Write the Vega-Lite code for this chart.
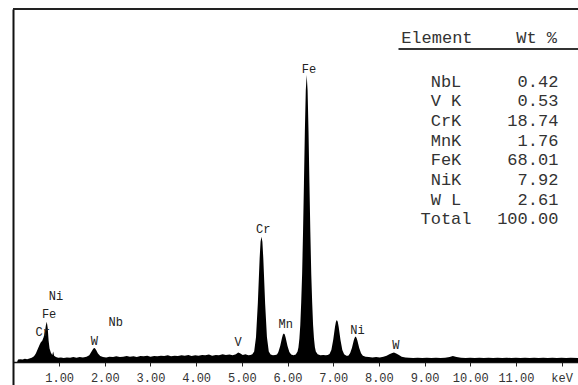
{
  "$schema": "https://vega.github.io/schema/vega-lite/v6.json",
  "width": 565,
  "height": 376,
  "autosize": {"type": "none"},
  "padding": {"left": 13, "top": 9, "right": 0, "bottom": 0},
  "background": "white",
  "config": {"view": {"stroke": null}},
  "datasets": {
    "spectrum": [
      {"energy": 0.08, "counts": 0}, {"energy": 0.10, "counts": 7}, {"energy": 0.15, "counts": 8}, {"energy": 0.20, "counts": 7},
      {"energy": 0.25, "counts": 9}, {"energy": 0.30, "counts": 8}, {"energy": 0.35, "counts": 10}, {"energy": 0.40, "counts": 12},
      {"energy": 0.45, "counts": 16}, {"energy": 0.49, "counts": 24}, {"energy": 0.53, "counts": 36}, {"energy": 0.57, "counts": 48},
      {"energy": 0.60, "counts": 56}, {"energy": 0.63, "counts": 60}, {"energy": 0.66, "counts": 70}, {"energy": 0.69, "counts": 86},
      {"energy": 0.71, "counts": 104}, {"energy": 0.73, "counts": 114}, {"energy": 0.75, "counts": 96}, {"energy": 0.77, "counts": 60},
      {"energy": 0.79, "counts": 38}, {"energy": 0.82, "counts": 26}, {"energy": 0.85, "counts": 20}, {"energy": 0.87, "counts": 30},
      {"energy": 0.89, "counts": 18}, {"energy": 0.93, "counts": 14}, {"energy": 0.98, "counts": 12}, {"energy": 1.04, "counts": 13},
      {"energy": 1.10, "counts": 11}, {"energy": 1.17, "counts": 13}, {"energy": 1.24, "counts": 12}, {"energy": 1.31, "counts": 14},
      {"energy": 1.38, "counts": 12}, {"energy": 1.45, "counts": 14}, {"energy": 1.52, "counts": 13}, {"energy": 1.60, "counts": 15},
      {"energy": 1.66, "counts": 19}, {"energy": 1.71, "counts": 30}, {"energy": 1.75, "counts": 38}, {"energy": 1.78, "counts": 40},
      {"energy": 1.81, "counts": 34}, {"energy": 1.85, "counts": 24}, {"energy": 1.90, "counts": 17}, {"energy": 1.96, "counts": 14},
      {"energy": 2.03, "counts": 13}, {"energy": 2.10, "counts": 15}, {"energy": 2.18, "counts": 14}, {"energy": 2.25, "counts": 16},
      {"energy": 2.33, "counts": 14}, {"energy": 2.40, "counts": 15}, {"energy": 2.48, "counts": 17}, {"energy": 2.55, "counts": 15},
      {"energy": 2.63, "counts": 16}, {"energy": 2.70, "counts": 14}, {"energy": 2.78, "counts": 17}, {"energy": 2.85, "counts": 16},
      {"energy": 2.93, "counts": 18}, {"energy": 3.00, "counts": 15}, {"energy": 3.08, "counts": 17}, {"energy": 3.15, "counts": 16},
      {"energy": 3.23, "counts": 18}, {"energy": 3.30, "counts": 17}, {"energy": 3.38, "counts": 19}, {"energy": 3.45, "counts": 16},
      {"energy": 3.53, "counts": 18}, {"energy": 3.60, "counts": 17}, {"energy": 3.68, "counts": 19}, {"energy": 3.75, "counts": 18},
      {"energy": 3.83, "counts": 20}, {"energy": 3.90, "counts": 17}, {"energy": 3.98, "counts": 19}, {"energy": 4.05, "counts": 18},
      {"energy": 4.13, "counts": 20}, {"energy": 4.20, "counts": 19}, {"energy": 4.28, "counts": 21}, {"energy": 4.35, "counts": 18},
      {"energy": 4.43, "counts": 20}, {"energy": 4.50, "counts": 19}, {"energy": 4.58, "counts": 22}, {"energy": 4.65, "counts": 20},
      {"energy": 4.73, "counts": 21}, {"energy": 4.80, "counts": 19}, {"energy": 4.87, "counts": 22}, {"energy": 4.92, "counts": 27},
      {"energy": 4.96, "counts": 25}, {"energy": 5.02, "counts": 20}, {"energy": 5.08, "counts": 22}, {"energy": 5.14, "counts": 19},
      {"energy": 5.19, "counts": 20}, {"energy": 5.23, "counts": 22}, {"energy": 5.27, "counts": 30}, {"energy": 5.31, "counts": 70},
      {"energy": 5.35, "counts": 166}, {"energy": 5.39, "counts": 294}, {"energy": 5.41, "counts": 341}, {"energy": 5.43, "counts": 355},
      {"energy": 5.45, "counts": 341}, {"energy": 5.47, "counts": 294}, {"energy": 5.51, "counts": 166}, {"energy": 5.55, "counts": 70},
      {"energy": 5.59, "counts": 30}, {"energy": 5.63, "counts": 21}, {"energy": 5.68, "counts": 19}, {"energy": 5.73, "counts": 20},
      {"energy": 5.77, "counts": 21}, {"energy": 5.80, "counts": 28}, {"energy": 5.84, "counts": 45}, {"energy": 5.88, "counts": 69},
      {"energy": 5.90, "counts": 78}, {"energy": 5.92, "counts": 81}, {"energy": 5.94, "counts": 78}, {"energy": 5.96, "counts": 69},
      {"energy": 6.00, "counts": 45}, {"energy": 6.04, "counts": 28}, {"energy": 6.08, "counts": 21}, {"energy": 6.13, "counts": 19},
      {"energy": 6.18, "counts": 21}, {"energy": 6.22, "counts": 30}, {"energy": 6.24, "counts": 42}, {"energy": 6.26, "counts": 66},
      {"energy": 6.28, "counts": 105}, {"energy": 6.30, "counts": 169}, {"energy": 6.32, "counts": 249}, {"energy": 6.34, "counts": 368},
      {"energy": 6.36, "counts": 507}, {"energy": 6.38, "counts": 654}, {"energy": 6.40, "counts": 769}, {"energy": 6.42, "counts": 813},
      {"energy": 6.44, "counts": 769}, {"energy": 6.46, "counts": 654}, {"energy": 6.48, "counts": 507}, {"energy": 6.50, "counts": 368},
      {"energy": 6.52, "counts": 249}, {"energy": 6.54, "counts": 169}, {"energy": 6.56, "counts": 105}, {"energy": 6.58, "counts": 66},
      {"energy": 6.60, "counts": 42}, {"energy": 6.62, "counts": 30}, {"energy": 6.66, "counts": 22}, {"energy": 6.72, "counts": 19},
      {"energy": 6.78, "counts": 20}, {"energy": 6.84, "counts": 19}, {"energy": 6.88, "counts": 20}, {"energy": 6.92, "counts": 23},
      {"energy": 6.96, "counts": 34}, {"energy": 7.00, "counts": 62}, {"energy": 7.04, "counts": 100}, {"energy": 7.06, "counts": 114},
      {"energy": 7.08, "counts": 119}, {"energy": 7.10, "counts": 114}, {"energy": 7.12, "counts": 100}, {"energy": 7.16, "counts": 62},
      {"energy": 7.20, "counts": 34}, {"energy": 7.24, "counts": 22}, {"energy": 7.29, "counts": 18}, {"energy": 7.33, "counts": 18},
      {"energy": 7.37, "counts": 25}, {"energy": 7.41, "counts": 40}, {"energy": 7.45, "counts": 61}, {"energy": 7.47, "counts": 69},
      {"energy": 7.49, "counts": 72}, {"energy": 7.51, "counts": 69}, {"energy": 7.53, "counts": 61}, {"energy": 7.57, "counts": 40},
      {"energy": 7.61, "counts": 25}, {"energy": 7.65, "counts": 18}, {"energy": 7.71, "counts": 15}, {"energy": 7.78, "counts": 14},
      {"energy": 7.86, "counts": 13}, {"energy": 7.94, "counts": 14}, {"energy": 8.02, "counts": 13}, {"energy": 8.10, "counts": 15},
      {"energy": 8.17, "counts": 18}, {"energy": 8.23, "counts": 22}, {"energy": 8.28, "counts": 25}, {"energy": 8.33, "counts": 27},
      {"energy": 8.38, "counts": 24}, {"energy": 8.44, "counts": 20}, {"energy": 8.50, "counts": 15}, {"energy": 8.58, "counts": 13},
      {"energy": 8.66, "counts": 12}, {"energy": 8.75, "counts": 11}, {"energy": 8.85, "counts": 12}, {"energy": 8.95, "counts": 11},
      {"energy": 9.05, "counts": 12}, {"energy": 9.15, "counts": 11}, {"energy": 9.25, "counts": 12}, {"energy": 9.35, "counts": 11},
      {"energy": 9.45, "counts": 12}, {"energy": 9.55, "counts": 14}, {"energy": 9.62, "counts": 17}, {"energy": 9.70, "counts": 14},
      {"energy": 9.80, "counts": 12}, {"energy": 9.90, "counts": 11}, {"energy": 10.00, "counts": 12}, {"energy": 10.10, "counts": 11},
      {"energy": 10.20, "counts": 12}, {"energy": 10.30, "counts": 11}, {"energy": 10.40, "counts": 12}, {"energy": 10.50, "counts": 11},
      {"energy": 10.60, "counts": 12}, {"energy": 10.70, "counts": 11}, {"energy": 10.80, "counts": 12}, {"energy": 10.90, "counts": 11},
      {"energy": 11.00, "counts": 12}, {"energy": 11.10, "counts": 11}, {"energy": 11.20, "counts": 12}, {"energy": 11.30, "counts": 11},
      {"energy": 11.40, "counts": 12}, {"energy": 11.50, "counts": 11}, {"energy": 11.60, "counts": 12}, {"energy": 11.70, "counts": 11},
      {"energy": 11.80, "counts": 12}, {"energy": 11.90, "counts": 11}, {"energy": 12.00, "counts": 12}, {"energy": 12.10, "counts": 11},
      {"energy": 12.20, "counts": 12}, {"energy": 12.36, "counts": 11}
    ],
    "peaks": [
      {"label": "Cr", "energy": 0.64, "height": 85},
      {"label": "Fe", "energy": 0.78, "height": 137},
      {"label": "Ni", "energy": 0.93, "height": 188},
      {"label": "W", "energy": 1.77, "height": 59},
      {"label": "Nb", "energy": 2.24, "height": 113},
      {"label": "V", "energy": 4.92, "height": 57},
      {"label": "Cr", "energy": 5.47, "height": 377},
      {"label": "Mn", "energy": 5.96, "height": 108},
      {"label": "Fe", "energy": 6.47, "height": 829},
      {"label": "Ni", "energy": 7.53, "height": 91},
      {"label": "W", "energy": 8.37, "height": 48}
    ],
    "table": [
      {"element": "NbL", "wt": 0.42},
      {"element": "V K", "wt": 0.53},
      {"element": "CrK", "wt": 18.74},
      {"element": "MnK", "wt": 1.76},
      {"element": "FeK", "wt": 68.01},
      {"element": "NiK", "wt": 7.92},
      {"element": "W L", "wt": 2.61},
      {"element": "Total", "wt": 100.00}
    ],
    "header": [
      {"col": "Element", "pos": "left"},
      {"col": "Wt %", "pos": "right"}
    ]
  },
  "layer": [
    {
      "layer": [
        {
          "data": {"name": "spectrum"},
          "mark": {"type": "area", "color": "#000000", "interpolate": "linear"},
          "encoding": {
            "x": {
              "field": "energy", "type": "quantitative",
              "scale": {"domain": [-0.01, 12.36], "nice": false, "zero": false},
              "axis": {
                "values": [1, 2, 3, 4, 5, 6, 7, 8, 9, 10, 11, 12],
                "labelExpr": "datum.value == 12 ? 'keV' : format(datum.value, '.2f')",
                "title": null, "grid": false, "offset": -23,
                "tickSize": 4, "tickColor": "#222222", "tickWidth": 1,
                "domainColor": "#111111", "domainWidth": 1.5,
                "labelFont": "Liberation Mono", "labelFontSize": 12, "labelColor": "#333333",
                "labelDx": 7, "labelPadding": 6, "labelBaseline": "top",
                "labelFlush": false, "labelOverlap": false, "labelBound": false
              }
            },
            "y": {
              "field": "counts", "type": "quantitative",
              "scale": {"domain": [-65.16, 1000], "nice": false, "zero": false},
              "axis": {"title": null, "labels": false, "ticks": false, "grid": false, "domainColor": "#111111", "domainWidth": 2}
            },
            "y2": {"datum": 0}
          }
        },
        {
          "data": {"values": [{}]},
          "mark": {"type": "rule", "color": "#222222", "strokeWidth": 2},
          "encoding": {"y": {"datum": 1000, "type": "quantitative"}}
        },
        {
          "data": {"name": "peaks"},
          "mark": {"type": "text", "font": "Liberation Mono", "fontSize": 12, "color": "#222222", "align": "center", "baseline": "middle"},
          "encoding": {
            "x": {"field": "energy", "type": "quantitative"},
            "y": {"field": "height", "type": "quantitative"},
            "text": {"field": "label"}
          }
        },
        {
          "data": {"values": [{}]},
          "mark": {"type": "text", "font": "Liberation Mono", "fontSize": 17, "color": "#333333", "align": "center", "baseline": "middle", "text": "Element"},
          "encoding": {"x": {"datum": 9.27, "type": "quantitative"}, "y": {"datum": 917, "type": "quantitative"}}
        },
        {
          "data": {"values": [{}]},
          "mark": {"type": "text", "font": "Liberation Mono", "fontSize": 17, "color": "#333333", "align": "right", "baseline": "middle", "text": "Wt %"},
          "encoding": {"x": {"datum": 11.9, "type": "quantitative"}, "y": {"datum": 917, "type": "quantitative"}}
        },
        {
          "data": {"values": [{}]},
          "mark": {"type": "rule", "color": "#333333", "strokeWidth": 2},
          "encoding": {
            "x": {"datum": 8.43, "type": "quantitative"},
            "x2": {"datum": 12.36},
            "y": {"datum": 887, "type": "quantitative"}
          }
        }
      ]
    },
    {
      "data": {"name": "table"},
      "encoding": {
        "y": {"field": "element", "type": "ordinal", "sort": null, "axis": null, "scale": {"type": "point", "range": [62.7, 220]}}
      },
      "layer": [
        {
          "mark": {"type": "text", "font": "Liberation Mono", "fontSize": 17, "color": "#333333", "align": "center", "baseline": "middle"},
          "encoding": {"x": {"datum": 9.47, "type": "quantitative"}, "text": {"field": "element"}}
        },
        {
          "mark": {"type": "text", "font": "Liberation Mono", "fontSize": 17, "color": "#333333", "align": "right", "baseline": "middle"},
          "encoding": {"x": {"datum": 11.93, "type": "quantitative"}, "text": {"field": "wt", "type": "quantitative", "format": ".2f"}}
        }
      ]
    }
  ],
  "resolve": {"scale": {"y": "independent"}}
}
